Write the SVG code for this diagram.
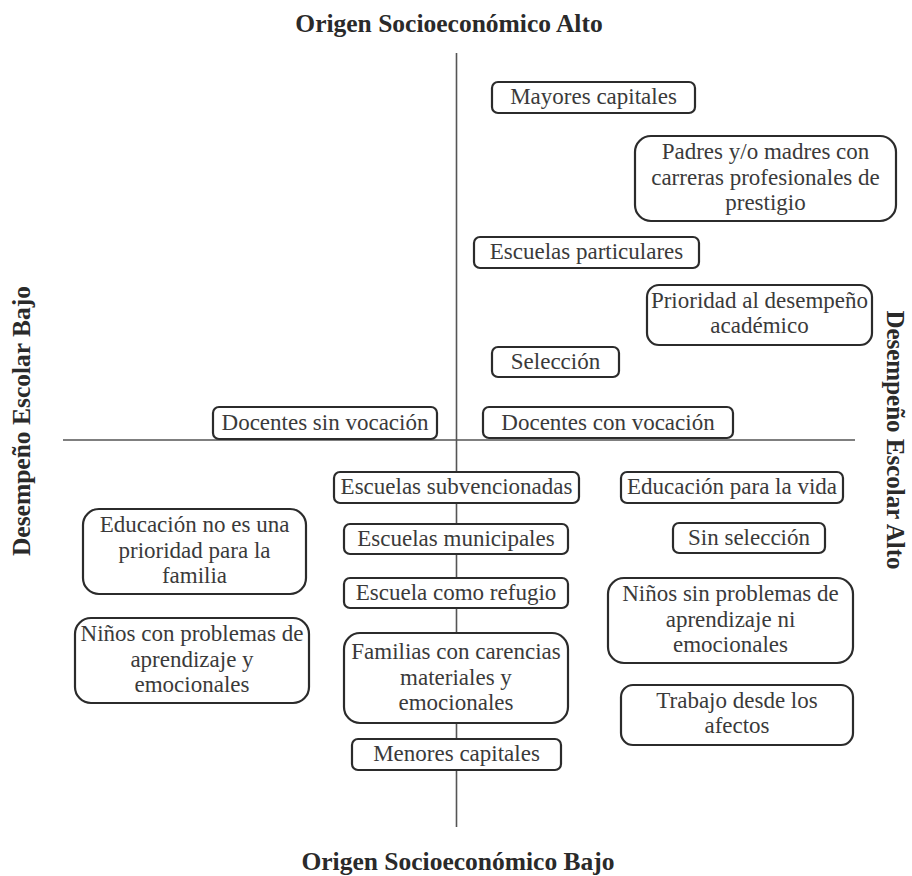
<svg xmlns="http://www.w3.org/2000/svg" width="912" height="876" viewBox="0 0 912 876">
<style>
.bx{fill:#fff;stroke:#2b2b2b;stroke-width:2.2}
.t{font-family:"Liberation Serif","Times New Roman",serif;font-size:23px;fill:#3a3a3a;text-anchor:middle}
.h{font-family:"Liberation Serif","Times New Roman",serif;font-size:25.5px;font-weight:bold;fill:#2a2a2a;text-anchor:middle}
.ax{stroke:#555;stroke-width:1.6;fill:none}
</style>
<rect width="912" height="876" fill="#fff"/>
<g id="axes">
<line class="ax" x1="456.5" y1="53" x2="456.5" y2="827"/>
<line class="ax" x1="63" y1="440" x2="855" y2="440"/>
</g>
<g id="labels">
<text class="h" x="449" y="32">Origen Socioeconómico Alto</text>
<text class="h" x="458" y="870">Origen Socioeconómico Bajo</text>
<text class="h" transform="translate(30,421) rotate(-90)">Desempeño Escolar Bajo</text>
<text class="h" transform="translate(887,440) rotate(90)" style="font-size:25px">Desempeño Escolar Alto</text>
</g>
<g id="n1"><rect class="bx" x="492" y="82" width="203" height="31" rx="6"/><text class="t" x="593.5" y="104">Mayores capitales</text></g>
<g id="n2"><rect class="bx" x="635" y="136" width="261" height="85" rx="16"/><text class="t" x="765.5" y="159">Padres y/o madres con</text><text class="t" x="765.5" y="185">carreras profesionales de</text><text class="t" x="765.5" y="210">prestigio</text></g>
<g id="n3"><rect class="bx" x="474" y="237" width="225" height="31" rx="6"/><text class="t" x="586.5" y="259">Escuelas particulares</text></g>
<g id="n4"><rect class="bx" x="647" y="285" width="225" height="60" rx="12"/><text class="t" x="759.5" y="308">Prioridad al desempeño</text><text class="t" x="759.5" y="333">académico</text></g>
<g id="n5"><rect class="bx" x="492" y="347" width="127" height="30" rx="6"/><text class="t" x="555.5" y="369">Selección</text></g>
<g id="n6"><rect class="bx" x="213" y="407" width="224" height="32" rx="6"/><text class="t" x="325" y="430">Docentes sin vocación</text></g>
<g id="n7"><rect class="bx" x="483" y="407" width="250" height="31" rx="6"/><text class="t" x="608" y="430">Docentes con vocación</text></g>
<g id="n8"><rect class="bx" x="334" y="472" width="245" height="31" rx="6"/><text class="t" x="456.5" y="494">Escuelas subvencionadas</text></g>
<g id="n9"><rect class="bx" x="344" y="524" width="224" height="30" rx="6"/><text class="t" x="456" y="546">Escuelas municipales</text></g>
<g id="n10"><rect class="bx" x="344" y="578" width="224" height="30" rx="6"/><text class="t" x="456" y="600">Escuela como refugio</text></g>
<g id="n11"><rect class="bx" x="344" y="633" width="224" height="90" rx="16"/><text class="t" x="456" y="659">Familias con carencias</text><text class="t" x="456" y="685">materiales y</text><text class="t" x="456" y="710">emocionales</text></g>
<g id="n12"><rect class="bx" x="352" y="739" width="209" height="31" rx="6"/><text class="t" x="456.5" y="761">Menores capitales</text></g>
<g id="n13"><rect class="bx" x="83" y="509" width="223" height="85" rx="16"/><text class="t" x="194.5" y="532">Educación no es una</text><text class="t" x="194.5" y="558">prioridad para la</text><text class="t" x="194.5" y="583">familia</text></g>
<g id="n14"><rect class="bx" x="75" y="618" width="234" height="85" rx="16"/><text class="t" x="192" y="641">Niños con problemas de</text><text class="t" x="192" y="667">aprendizaje y</text><text class="t" x="192" y="692">emocionales</text></g>
<g id="n15"><rect class="bx" x="621" y="472" width="222" height="31" rx="6"/><text class="t" x="732" y="494">Educación para la vida</text></g>
<g id="n16"><rect class="bx" x="673" y="523" width="152" height="30" rx="6"/><text class="t" x="749" y="545">Sin selección</text></g>
<g id="n17"><rect class="bx" x="608" y="578" width="245" height="85" rx="16"/><text class="t" x="730.5" y="601">Niños sin problemas de</text><text class="t" x="730.5" y="627">aprendizaje ni</text><text class="t" x="730.5" y="652">emocionales</text></g>
<g id="n18"><rect class="bx" x="621" y="685" width="232" height="60" rx="12"/><text class="t" x="737" y="708">Trabajo desde los</text><text class="t" x="737" y="733">afectos</text></g>
</svg>
